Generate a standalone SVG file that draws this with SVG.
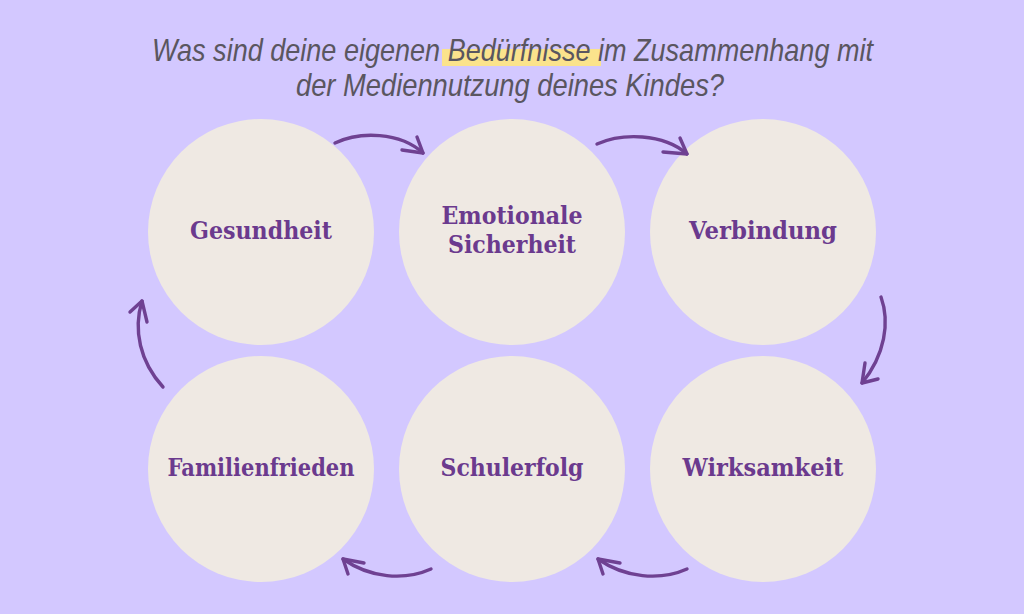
<svg xmlns="http://www.w3.org/2000/svg" width="1024" height="614" viewBox="0 0 1024 614">
<style>
.node circle{fill:#efe9e3}
.lbl{font-family:"DejaVu Serif","Liberation Serif",serif;font-weight:bold;font-size:24px;fill:#6b3a8e;text-anchor:middle}
.title{font-family:"Liberation Sans","DejaVu Sans",sans-serif;font-style:italic;font-size:32px;fill:#5a5660}
.arr path{fill:none;stroke:#6f4192;stroke-width:3.4;stroke-linecap:round;stroke-linejoin:round}
</style>
<rect width="1024" height="614" fill="#d3c8ff"/>
<g id="title">
<rect x="442" y="49" width="159" height="17" fill="#fbe38c"/>
<text class="title" x="152" y="61" textLength="721" lengthAdjust="spacingAndGlyphs">Was sind deine eigenen Bedürfnisse im Zusammenhang mit</text>
<text class="title" x="296" y="96" textLength="428" lengthAdjust="spacingAndGlyphs">der Mediennutzung deines Kindes?</text>
</g>
<g id="node-gesundheit" class="node"><circle cx="261" cy="232" r="113"/><text class="lbl" x="261" y="239" textLength="142" lengthAdjust="spacingAndGlyphs">Gesundheit</text></g>
<g id="node-emotionale" class="node"><circle cx="512" cy="232" r="113"/><text class="lbl" x="512" y="224" textLength="141" lengthAdjust="spacingAndGlyphs">Emotionale</text><text class="lbl" x="512" y="253" textLength="128" lengthAdjust="spacingAndGlyphs">Sicherheit</text></g>
<g id="node-verbindung" class="node"><circle cx="763" cy="232" r="113"/><text class="lbl" x="763" y="239" textLength="148" lengthAdjust="spacingAndGlyphs">Verbindung</text></g>
<g id="node-wirksamkeit" class="node"><circle cx="763" cy="469" r="113"/><text class="lbl" x="763" y="476" textLength="161" lengthAdjust="spacingAndGlyphs">Wirksamkeit</text></g>
<g id="node-schulerfolg" class="node"><circle cx="512" cy="469" r="113"/><text class="lbl" x="512" y="476" textLength="143" lengthAdjust="spacingAndGlyphs">Schulerfolg</text></g>
<g id="node-familienfrieden" class="node"><circle cx="261" cy="469" r="113"/><text class="lbl" x="261" y="476" textLength="187" lengthAdjust="spacingAndGlyphs">Familienfrieden</text></g>
<g id="connectors" class="arr">
<path d="M335,143 C360,131 400,132 423,153"/><path d="M417,137 L423,153 L402,150"/>
<path d="M597,144 C622,133 663,133 687,154"/><path d="M680,138 L687,154 L663,152"/>
<path d="M881,297 C890,322 885,355 862,383"/><path d="M865,363 L862,383 L878,379"/>
<path d="M687,569 C660,581 625,578 598,559"/><path d="M620,563 L598,559 L603,574"/>
<path d="M431,569 C404,581 370,578 343,559"/><path d="M364,563 L343,559 L348,574"/>
<path d="M163,387 C140,362 133,330 142,301"/><path d="M130,312 L142,301 L147,322"/>
</g>
</svg>
